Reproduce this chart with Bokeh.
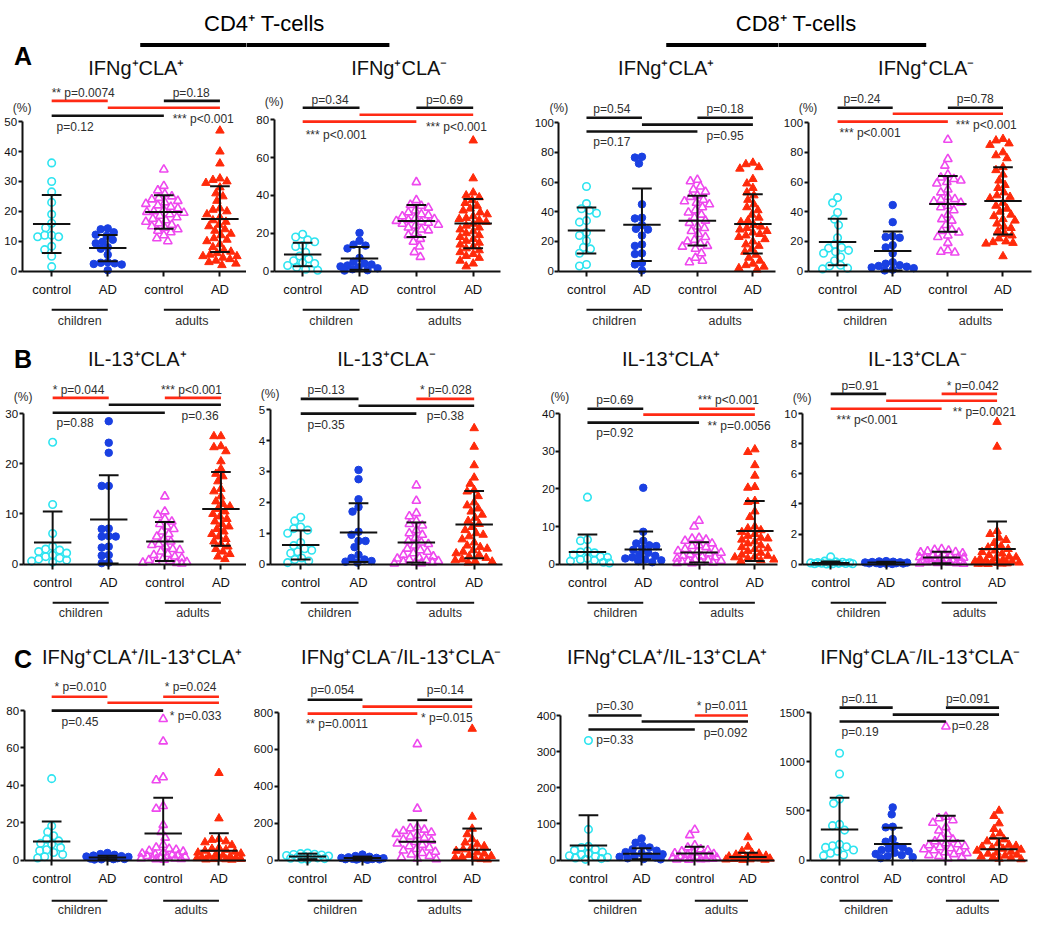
import math
from bokeh.plotting import figure
from bokeh.layouts import column, row
from bokeh.models import Range1d, LinearAxis, FixedTicker
from bokeh.core.properties import value
from bokeh.embed import file_html
from bokeh.resources import INLINE

# ---------------- data ----------------
GROUP_LABELS = ["control", "AD", "control", "AD"]
COHORTS = ["children", "adults"]

# A1  CD4 IFNg+CLA+
a1_cc = [36.2, 30.0, 26.5, 23.0, 19.0, 16.0, 14.5, 12.0, 12.0, 11.5, 11.5, 8.3, 7.2, 5.0, 1.5]
a1_cad = [14.3, 14.0, 13.0, 12.2, 11.8, 10.5, 9.8, 9.3, 8.0, 7.5, 5.5, 3.0, 2.8, 2.6, 2.4, 2.2, 0.3]
a1_ac = [34.0, 28.5, 27.0, 25.8, 25.0, 24.5, 24.0, 23.5, 23.0, 22.5, 22.0, 21.5, 21.0, 20.5, 20.0, 19.8,
         19.5, 19.0, 18.5, 18.0, 17.5, 17.0, 16.5, 16.0, 15.5, 15.0, 14.5, 14.0, 13.5, 13.0, 12.0, 11.0, 10.0]
a1_aad = [47, 40, 36, 31, 30.5, 30, 29.5, 28, 26, 25, 23.5, 21, 20.5, 20, 19, 18, 17, 16.5, 15.5, 15, 14,
          13.5, 12.5, 12, 11, 10.5, 10, 9, 8, 7, 6.5, 6, 5.5, 5, 5, 4.5, 4, 3.5, 3, 2.5, 2]
a1_mean = [15.8, 7.7, 19.8, 17.4]
a1_sd = [9.7, 4.4, 5.6, 11.0]

# A2  CD4 IFNg+CLA-
a2_cc = [19.5, 18, 16.5, 15.5, 13.5, 13, 10, 8, 6.5, 5.5, 4.5, 4, 3, 2, 1, 0.5]
a2_cad = [20.2, 16, 14, 13.5, 12, 7, 5, 4, 3.5, 3, 2.5, 2, 1.5, 1, 0.5, 0.3]
a2_ac = [47, 37.5, 35, 34.5, 33.5, 32, 31, 30, 29.5, 29, 28, 27.5, 27, 26.5, 26, 25.5, 25, 24.5, 24, 23,
         22, 21.5, 20, 19, 17, 15.5, 13, 10, 7.5]
a2_aad = [69, 49, 41.5, 40, 39, 37.5, 36, 34.5, 33, 32, 31, 30, 29, 28, 27.5, 27, 26, 25, 24, 23, 22, 21,
          20, 19, 18, 17, 16, 15, 14, 13, 12, 11, 10, 9, 8, 7, 5.5, 4, 2.5]
a2_mean = [8.8, 6.7, 26.5, 25.1]
a2_sd = [6.2, 6.0, 8.5, 13.0]

# A3  CD8 IFNg+CLA+
a3_cc = [57, 45.5, 42, 41, 39, 34, 33, 26, 24, 20.5, 16, 15, 12, 4.5, 3.5]
a3_cad = [77, 76.5, 72.5, 45, 36, 35.5, 31, 28.5, 28, 24, 18, 17, 12, 11.5, 5.5, 4.5, 0.5]
a3_ac = [61.5, 60.5, 57, 55, 53.5, 51, 50, 48, 47, 46, 45, 43, 41, 39.5, 38, 36, 34, 32.5, 30, 29, 27,
         25, 23, 21, 20, 18.5, 17, 16.5, 15, 12, 9, 7, 6]
a3_aad = [73, 72, 70, 69, 62, 59, 56, 53, 51, 48, 45, 43, 41, 38, 36, 34, 33, 31, 30, 29, 28, 27, 26, 25,
          24, 23, 21.5, 20, 18, 17, 15, 13, 11, 9, 7, 5, 4, 3, 2, 1]
a3_mean = [27.3, 31.3, 34.0, 31.8]
a3_sd = [15.5, 24.4, 16.7, 20.0]

# A4  CD8 IFNg+CLA-
a4_cc = [49.5, 46, 39.5, 35, 31, 22.5, 18, 16, 15.5, 14, 13, 12, 9.5, 7, 4, 3.5, 2, 1.5]
a4_cad = [44.5, 33, 23.5, 23, 22.5, 17.5, 16, 12, 6, 5, 4, 3.5, 3, 2.5, 2, 1, 0.5]
a4_ac = [88.5, 75.5, 71, 65, 63, 62, 61, 60, 59, 55, 53, 50, 48.5, 48, 47, 46, 44, 43, 41, 38, 35, 34,
         31, 28, 27, 26, 24, 23, 19, 14, 13, 12.5]
a4_aad = [89, 88, 86, 85, 80, 78, 76, 70, 68, 65, 61, 58, 56, 53, 51, 50, 49, 46, 44, 42, 40, 38, 37, 35,
          34, 32, 30, 29, 27, 25, 24, 22, 20, 19.5, 19, 18.5, 10]
a4_mean = [19.6, 13.6, 45.3, 47.3]
a4_sd = [15.6, 13.1, 18.7, 22.7]

# B1  CD4 IL-13+CLA+
b1_cc = [24.3, 11.9, 6.1, 3.5, 3.0, 2.8, 2.5, 2.2, 1.8, 1.5, 1.2, 1.0, 0.8, 0.6, 0.4]
b1_cad = [28.5, 24.2, 22.2, 15.6, 15.6, 7.1, 7.0, 5.6, 5.5, 5.5, 3.5, 3.3, 1.8, 1.7, 0.3, 0.2]
b1_ac = [13.5, 10.5, 9.8, 9.0, 8.5, 8.0, 7.5, 7.0, 6.5, 6.0, 5.5, 5.0, 4.5, 4.0, 3.8, 3.5, 3.0, 2.8,
         2.5, 2.0, 1.8, 1.5, 1.2, 1.0, 0.8, 0.6, 0.5, 0.4, 0.3, 0.2, 0.1]
b1_aad = [25.5, 25.5, 23.5, 23.3, 22.5, 20.5, 19, 18, 17.5, 16.5, 15, 14.5, 13.5, 12.5, 12, 11.5, 11,
          10.5, 10, 9.5, 9, 8.5, 8, 7.5, 7, 6.5, 6, 5.5, 5, 4.5, 4, 3.5, 3, 2.5, 2, 1.5, 1]
b1_mean = [4.3, 8.9, 4.5, 11.0]
b1_sd = [6.2, 8.8, 3.9, 7.35]

# B2  CD4 IL-13+CLA-
b2_cc = [1.52, 1.4, 1.2, 1.15, 1.1, 1.0, 0.7, 0.6, 0.5, 0.45, 0.4, 0.35, 0.2, 0.15, 0.1, 0.05]
b2_cad = [3.05, 2.75, 2.1, 1.85, 1.7, 1.05, 0.95, 0.75, 0.75, 0.55, 0.3, 0.2, 0.15, 0.1, 0.08, 0.05]
b2_ac = [2.55, 2.05, 1.65, 1.55, 1.4, 1.3, 1.25, 1.1, 1.0, 0.95, 0.85, 0.75, 0.7, 0.65, 0.6, 0.5, 0.45,
         0.4, 0.35, 0.3, 0.25, 0.2, 0.18, 0.15, 0.12, 0.1, 0.08, 0.06, 0.05, 0.03, 0.02]
b2_aad = [4.4, 3.8, 3.2, 2.8, 2.6, 2.4, 2.35, 2.2, 2.0, 1.9, 1.8, 1.7, 1.6, 1.5, 1.4, 1.3, 1.2, 1.1, 1.0,
          0.95, 0.9, 0.8, 0.7, 0.6, 0.55, 0.5, 0.45, 0.4, 0.35, 0.3, 0.25, 0.2, 0.15, 0.12, 0.1, 0.08, 0.05]
b2_mean = [0.62, 1.02, 0.70, 1.28]
b2_sd = [0.47, 0.95, 0.65, 1.09]

# B3  CD8 IL-13+CLA+
b3_cc = [17.8, 6.5, 6.2, 3.5, 3.2, 3.0, 2.5, 2.0, 1.8, 1.5, 1.2, 1.0, 0.8, 0.5, 0.3]
b3_cad = [20.3, 8.6, 6.2, 5.5, 5.0, 4.8, 4.2, 3.8, 3.0, 2.5, 2.2, 1.8, 1.5, 1.2, 1.0, 0.8, 0.5]
b3_ac = [11.5, 10.0, 7.0, 6.8, 6.5, 6.2, 5.5, 5.0, 4.8, 4.5, 4.0, 3.8, 3.5, 3.2, 3.0, 2.8, 2.5, 2.2,
         2.0, 1.8, 1.5, 1.2, 1.0, 0.9, 0.8, 0.6, 0.5, 0.4, 0.3, 0.2]
b3_aad = [30.5, 29.8, 26.3, 23.5, 20.5, 20.3, 16.8, 16.5, 14, 12.5, 10, 9.5, 9, 8.5, 8, 7.5, 7, 6.8, 6.5,
          6, 5.5, 5, 4.5, 4.2, 4, 3.5, 3, 2.5, 2.2, 2, 1.8, 1.5, 1.2, 1, 0.8]
b3_mean = [3.2, 3.9, 3.1, 8.8]
b3_sd = [4.7, 4.8, 2.7, 8.0]

# B4  CD8 IL-13+CLA-
b4_cc = [0.48, 0.2, 0.15, 0.12, 0.1, 0.09, 0.08, 0.07, 0.06, 0.05, 0.04, 0.03, 0.02, 0.02, 0.01]
b4_cad = [0.2, 0.18, 0.16, 0.14, 0.12, 0.11, 0.1, 0.09, 0.08, 0.07, 0.06, 0.05, 0.04, 0.03, 0.02, 0.01]
b4_ac = [1.0, 0.95, 0.9, 0.85, 0.8, 0.78, 0.72, 0.68, 0.62, 0.58, 0.55, 0.5, 0.48, 0.45, 0.42, 0.4, 0.36,
         0.33, 0.3, 0.27, 0.24, 0.2, 0.18, 0.15, 0.12, 0.1, 0.08, 0.06, 0.04, 0.02]
b4_aad = [9.45, 7.8, 2.2, 2.0, 1.75, 1.6, 1.4, 1.2, 1.1, 1.0, 0.9, 0.8, 0.7, 0.6, 0.5, 0.45, 0.4, 0.35,
          0.3, 0.25, 0.2, 0.18, 0.15, 0.1, 0.08, 0.05, 0.04, 0.03, 0.02, 0.01]
b4_mean = [0.07, 0.1, 0.44, 1.0]
b4_sd = [0.1, 0.05, 0.38, 1.84]

# C1  CD4 IFNg+CLA+/IL-13+CLA+
c1_cc = [43.6, 18.3, 15.1, 13, 11.2, 10.3, 9, 8.5, 6.7, 5.5, 5, 4.1, 3, 1.8, 1.1]
c1_cad = [3.8, 3.2, 2.8, 2.4, 2.1, 1.9, 1.7, 1.5, 1.3, 1.2, 1.0, 0.8, 0.6, 0.5, 0.4, 0.3]
c1_ac = [75.5, 63.5, 44.3, 42.7, 28.9, 27.5, 18.8, 15.1, 12, 8.2, 6.7, 6, 5.5, 5, 4.5, 4, 3.5, 3, 2.8,
         2.5, 2.2, 2, 1.8, 1.5, 1.2, 1, 0.8, 0.6, 0.4, 0.2]
c1_aad = [46.6, 22.3, 11.2, 10.8, 10, 9.5, 8, 6.5, 6, 5.5, 5, 4.5, 4, 3.5, 3, 2.5, 2, 1.8, 1.5, 1.2, 1,
          0.8, 0.6, 0.5, 0.4, 0.3, 0.2]
c1_mean = [9.9, 1.4, 14.2, 5.0]
c1_sd = [10.8, 0.9, 19.1, 9.4]

# C2  CD4 IFNg+CLA-/IL-13+CLA-
c2_cc = [38, 35, 32, 30, 28, 25, 22, 20, 18, 15, 12, 10, 8, 6, 5]
c2_cad = [30, 22, 18, 15, 12, 12, 10, 9, 8, 7, 6, 5, 4, 3, 2]
c2_ac = [629, 279, 178, 172, 165, 158, 150, 142, 135, 128, 120, 112, 105, 98, 90, 82, 75, 68, 60, 52, 45,
         38, 30, 22, 15, 8, 4]
c2_aad = [712, 235, 170, 140, 113, 95, 85, 75, 65, 58, 50, 42, 35, 28, 22, 16, 12, 8, 5, 3]
c2_mean = [20, 11, 99, 56]
c2_sd = [15, 8, 117, 115]

# C3  CD8 IFNg+CLA+/IL-13+CLA+
c3_cc = [331, 85, 38, 35, 30, 27, 22, 18, 15, 12, 10, 8, 6, 4, 2]
c3_cad = [60, 48, 39, 35, 30, 26, 22, 19, 16, 13, 11, 9, 7, 5, 3, 2]
c3_ac = [84, 69, 41, 35, 30, 27, 24, 21, 19, 17, 15, 13, 11, 10, 9, 8, 7, 6, 5, 4, 3, 2, 1.5, 1]
c3_aad = [63, 37, 25, 20, 18, 15, 12, 10, 8, 7, 6, 5, 4, 3, 2, 1.5, 1, 0.5]
c3_mean = [40.5, 17.5, 18.4, 8.3]
c3_sd = [83.5, 15, 18.4, 11.7]

# C4  CD8 IFNg+CLA-/IL-13+CLA-
c4_cc = [1086, 876, 621, 577, 363, 350, 305, 160, 146, 135, 129, 102, 90, 70, 51, 45]
c4_cad = [536, 465, 339, 333, 214, 187, 146, 130, 118, 102, 90, 75, 62, 51, 40, 30, 20]
c4_ac = [1358, 440, 425, 405, 380, 335, 300, 265, 230, 210, 190, 170, 160, 150, 140, 130, 120, 110, 100,
         90, 80, 70, 60, 50, 40, 30, 20]
c4_aad = [502, 448, 373, 316, 271, 237, 210, 190, 170, 155, 145, 135, 125, 115, 105, 95, 85, 75, 65, 55,
          45, 35, 28, 20, 14, 8]
c4_mean = [312, 163, 197, 109]
c4_sd = [323, 166, 254, 112]

# ---------------- styling / layout ----------------
FONT = "Liberation Sans"
CYAN = "#2ee4f0"
BLUE = "#1a40e2"
MAGENTA = "#ee48ee"
RED = "#ff2a0a"
SIGRED = "#ff2a14"
INK = "#111111"
GREY = "#2e2e2e"
K = "black"
R = "red"

SX = 1034 / 1050
SY = 918 / 926

HEAD_H = 40
COL_BOX = [(0, 250), (250, 278), (528, 262), (790, 260)]
ROW_BOX = [
    dict(y0=40, h=296, zero=273, gline=312, gtext=323, title=68, letter=56, name="A"),
    dict(y0=336, h=294, zero=569, gline=608, gtext=618, title=362, letter=362, name="B"),
    dict(y0=630, h=296, zero=868, gline=909, gtext=918, title=663, letter=665, name="C"),
]
# rules under the two cell-type captions (x from, x to, y) in reference pixels
HEAD_RULES = [(142, 395, 44.5), (676, 940, 44.5)]

STYLES = [
    dict(marker="circle", fill=None, line=CYAN, size=7.5),
    dict(marker="circle", fill=BLUE, line=BLUE, size=7.5),
    dict(marker="triangle", fill=None, line=MAGENTA, size=8.5),
    dict(marker="triangle", fill=RED, line=RED, size=8.5),
]

T1 = "IFNg\u207aCLA\u207a"
T2 = "IFNg\u207aCLA\u207b"
T3 = "IL-13\u207aCLA\u207a"
T4 = "IL-13\u207aCLA\u207b"
T5 = "IFNg\u207aCLA\u207a/IL-13\u207aCLA\u207a"
T6 = "IFNg\u207aCLA\u207b/IL-13\u207aCLA\u207b"

PANELS = [
    dict(row=0, col=0, title=T1, tx=138, ticks=[0, 10, 20, 30, 40, 50], top=122, ax=22, g1=52, g4=223, xe=250,
         data=[a1_cc, a1_cad, a1_ac, a1_aad], mean=a1_mean, sd=a1_sd, pct=-14,
         bars=[(1, 2, -21, R), (3, 4, -21, K), (2, 4, -14, R), (1, 3, -6, K)],
         labels=[("** p=0.0074", 52, -29), ("p=0.18", 175, -29), ("p=0.12", 57, 5), ("*** p<0.001", 175, -3)]),
    dict(row=0, col=1, title=T2, tx=405, ticks=[0, 20, 40, 60, 80], top=120, ax=278, g1=307, g4=480, xe=508,
         data=[a2_cc, a2_cad, a2_ac, a2_aad], mean=a2_mean, sd=a2_sd, pct=-18,
         bars=[(1, 2, -12, K), (3, 4, -12, K), (2, 4, -5, R), (1, 3, 2, R)],
         labels=[("p=0.34", 316, -20), ("p=0.69", 432, -20), ("*** p<0.001", 310, 15), ("*** p<0.001", 432, 7)]),
    dict(row=0, col=2, title=T1, tx=676, ticks=[0, 20, 40, 60, 80, 100], top=123, ax=567, g1=595, g4=764, xe=787,
         data=[a3_cc, a3_cad, a3_ac, a3_aad], mean=a3_mean, sd=a3_sd, pct=-15,
         bars=[(1, 2, -5, K), (3, 4, -5, K), (2, 4, 2, K), (1, 3, 9, K)],
         labels=[("p=0.54", 602, -14), ("p=0.18", 717, -14), ("p=0.17", 602, 20), ("p=0.95", 717, 13)]),
    dict(row=0, col=3, title=T2, tx=940, ticks=[0, 20, 40, 60, 80, 100], top=123, ax=820, g1=850, g4=1018, xe=1047,
         data=[a4_cc, a4_cad, a4_ac, a4_aad], mean=a4_mean, sd=a4_sd, pct=-15,
         bars=[(1, 2, -15, K), (3, 4, -15, K), (2, 4, -9, R), (1, 3, -1, R)],
         labels=[("p=0.24", 856, -24), ("p=0.78", 971, -24), ("*** p<0.001", 852, 10), ("*** p<0.001", 970, 2)]),
    dict(row=1, col=0, title=T3, tx=139, ticks=[0, 10, 20, 30], top=417, ax=23, g1=53, g4=224, xe=250,
         data=[b1_cc, b1_cad, b1_ac, b1_aad], mean=b1_mean, sd=b1_sd, pct=-17,
         bars=[(1, 2, -16, R), (3, 4, -16, R), (2, 4, -9, K), (1, 3, -1, K)],
         labels=[("* p=0.044", 53, -24), ("*** p<0.001", 163, -24), ("p=0.88", 57, 9), ("p=0.36", 184, 2)]),
    dict(row=1, col=1, title=T4, tx=392, ticks=[0, 1, 2, 3, 4, 5], top=413, ax=274, g1=305, g4=481, xe=510,
         data=[b2_cc, b2_cad, b2_ac, b2_aad], mean=b2_mean, sd=b2_sd, pct=-16,
         bars=[(1, 2, -11, K), (3, 4, -11, R), (2, 4, -4, K), (1, 3, 4, K)],
         labels=[("p=0.13", 312, -20), ("* p=0.028", 426, -20), ("p=0.35", 312, 15), ("p=0.38", 433, 6)]),
    dict(row=1, col=2, title=T3, tx=681, ticks=[0, 10, 20, 30, 40], top=417, ax=568, g1=596, g4=766, xe=789,
         data=[b3_cc, b3_cad, b3_ac, b3_aad], mean=b3_mean, sd=b3_sd, pct=-17,
         bars=[(1, 2, -5, K), (3, 4, -5, R), (2, 4, 1, R), (1, 3, 9, K)],
         labels=[("p=0.69", 605, -14), ("*** p<0.001", 708, -14), ("p=0.92", 605, 20), ("** p=0.0056", 718, 12)]),
    dict(row=1, col=3, title=T4, tx=931, ticks=[0, 2, 4, 6, 8, 10], top=417, ax=814, g1=843, g4=1012, xe=1030,
         data=[b4_cc, b4_cad, b4_ac, b4_aad], mean=b4_mean, sd=b4_sd, pct=-16,
         bars=[(1, 2, -20, K), (3, 4, -20, R), (2, 4, -13, R), (1, 3, -5, R)],
         labels=[("p=0.91", 854, -28), ("* p=0.042", 961, -28), ("*** p<0.001", 849, 6), ("** p=0.0021", 967, -2)]),
    dict(row=2, col=0, title=T5, tx=144, ticks=[0, 20, 40, 60, 80], top=717, ax=24, g1=52, g4=222, xe=250,
         data=[c1_cc, c1_cad, c1_ac, c1_aad], mean=c1_mean, sd=c1_sd, pct=None,
         bars=[(1, 2, -14, R), (3, 4, -14, R), (2, 4, -8, R), (1, 3, 0, K)],
         labels=[("* p=0.010", 55, -24), ("* p=0.024", 167, -24), ("p=0.45", 62, 11), ("* p=0.033", 172, 5)]),
    dict(row=2, col=1, title=T6, tx=407, ticks=[0, 200, 400, 600, 800], top=719, ax=282, g1=312, g4=479, xe=507,
         data=[c2_cc, c2_cad, c2_ac, c2_aad], mean=c2_mean, sd=c2_sd, pct=None,
         bars=[(1, 2, -13, K), (3, 4, -13, K), (2, 4, -6, R), (1, 3, 1, R)],
         labels=[("p=0.054", 315, -23), ("p=0.14", 433, -23), ("** p=0.0011", 310, 12), ("* p=0.015", 427, 5)]),
    dict(row=2, col=2, title=T5, tx=677, ticks=[0, 100, 200, 300, 400], top=722, ax=569, g1=597, g4=759, xe=786,
         data=[c3_cc, c3_cad, c3_ac, c3_aad], mean=c3_mean, sd=c3_sd, pct=None,
         bars=[(1, 2, 0, K), (3, 4, 0, R), (2, 4, 6, K), (1, 3, 14, K)],
         labels=[("p=0.30", 605, -10), ("* p=0.011", 707, -10), ("p=0.33", 605, 25), ("p=0.092", 714, 18)]),
    dict(row=2, col=3, title=T6, tx=934, ticks=[0, 500, 1000, 1500], top=719, ax=822, g1=852, g4=1014, xe=1043,
         data=[c4_cc, c4_cad, c4_ac, c4_aad], mean=c4_mean, sd=c4_sd, pct=None,
         bars=[(1, 2, -5, K), (3, 4, -5, K), (2, 4, 2, K), (1, 3, 9, K)],
         labels=[("p=0.11", 854, -14), ("p=0.091", 960, -14), ("p=0.19", 854, 20), ("p=0.28", 966, 14)]),
]


def swarm(vals, ypx, xpx, diam=7.0, cap=22):
    """Beeswarm horizontal offsets (in group units) so markers do not overlap."""
    order = sorted(range(len(vals)), key=lambda i: -vals[i])
    cands = sorted(range(-cap, cap + 1), key=lambda c: (abs(c), c))
    placed = []
    offs = [0.0] * len(vals)
    for i in order:
        y = vals[i] * ypx
        chosen = None
        best_c, best_d = 0, -1.0
        for c in cands:
            dmin = min((math.hypot(c - px, y - py) for px, py in placed), default=1e9)
            if dmin >= diam:
                chosen = c
                break
            if dmin > best_d:
                best_d, best_c = dmin, c
        if chosen is None:
            chosen = best_c
        placed.append((chosen, y))
        offs[i] = chosen / xpx
    return offs


def txt(p, x, y, t, size, color=INK, align="center", style="normal"):
    p.text(x=[x], y=[y], text=[t], text_font=value(FONT), text_font_size=size,
           text_color=color, text_align=align, text_baseline="middle", text_font_style=style)


def build(pn):
    rb = ROW_BOX[pn["row"]]
    cl, cw = COL_BOX[pn["col"]]
    ticks = pn["ticks"]
    ymax = ticks[-1]
    top = pn["top"]
    s = (rb["zero"] - top) / ymax
    g1, g4 = pn["g1"], pn["g4"]
    d = (g4 - g1) / 3.0

    def X(px):
        return 1 + (px - g1) / d

    def Y(py):
        return ymax - (py - top) / s

    p = figure(width=round(cw * SX), height=round(rb["h"] * SY),
               x_range=Range1d(X(cl), X(cl + cw)),
               y_range=Range1d(Y(rb["y0"] + rb["h"]), Y(rb["y0"])),
               output_backend="svg", toolbar_location=None,
               x_axis_type=None, y_axis_type=None, min_border=0)
    p.outline_line_color = None
    p.background_fill_color = "white"
    p.border_fill_color = "white"

    yax = LinearAxis(fixed_location=X(pn["ax"]), bounds=(0, ymax), ticker=FixedTicker(ticks=ticks))
    xax = LinearAxis(fixed_location=0, bounds=(X(pn["ax"]), X(pn["xe"])),
                     ticker=FixedTicker(ticks=[1, 2, 3, 4]),
                     major_label_overrides={i + 1: lab for i, lab in enumerate(GROUP_LABELS)})
    for ax in (yax, xax):
        ax.axis_line_width = 2
        ax.axis_line_color = INK
        ax.major_tick_line_width = 2
        ax.major_tick_line_color = INK
        ax.major_tick_in = 0
        ax.minor_tick_line_color = None
        ax.major_label_text_font = FONT
        ax.major_label_text_color = INK
    yax.major_label_text_font_size = "11.5px"
    yax.major_tick_out = 4
    yax.major_label_standoff = 1
    xax.major_label_text_font_size = "13px"
    xax.major_tick_out = 5
    xax.major_label_standoff = 6
    p.add_layout(yax, "left")
    p.add_layout(xax, "below")

    # points
    ypx = s * SY
    xpx = d * SX
    for gi, vals in enumerate(pn["data"]):
        st = STYLES[gi]
        offs = swarm(vals, ypx, xpx)
        xs = [gi + 1 + o for o in offs]
        if st["fill"] is None:
            p.scatter(xs, vals, marker=st["marker"], size=st["size"], fill_color=None,
                      line_color=st["line"], line_width=1.6)
        else:
            p.scatter(xs, vals, marker=st["marker"], size=st["size"], fill_color=st["fill"],
                      line_color=st["line"], line_width=1)

    # mean +/- SD
    hm, hc = 19.0 / d, 10.0 / d
    x0, y0, x1, y1 = [], [], [], []
    for gi in range(4):
        xc = gi + 1
        m, sd = pn["mean"][gi], pn["sd"][gi]
        hi, lo = m + sd, max(0.0, m - sd)
        x0 += [xc - hm, xc, xc - hc]
        x1 += [xc + hm, xc, xc + hc]
        y0 += [m, lo, hi]
        y1 += [m, hi, hi]
        if m - sd > 0:
            x0.append(xc - hc); x1.append(xc + hc); y0.append(lo); y1.append(lo)
    p.segment(x0, y0, x1, y1, line_color=INK, line_width=2)

    # significance bars and p values
    for a, b, rel, col in pn["bars"]:
        yy = Y(top + rel)
        p.segment([a], [yy], [b], [yy], line_color=SIGRED if col == R else INK, line_width=2.6)
    for t, px, rel in pn["labels"]:
        txt(p, X(px), Y(top + rel), t, "12px", GREY, align="left")

    # title, unit, row letter
    txt(p, X(pn["tx"]), Y(rb["title"]), pn["title"], "20px", INK)
    if pn["pct"] is not None:
        txt(p, X(pn["ax"]), Y(top + pn["pct"]), "(%)", "12px", GREY)
    if pn["col"] == 0:
        txt(p, X(23), Y(rb["letter"]), rb["name"], "25px", "black", style="bold")

    # rules under the cell-type captions (clipped to each panel of the first row)
    if pn["row"] == 0:
        for xa, xb, yr in HEAD_RULES:
            p.segment([X(xa)], [Y(yr)], [X(xb)], [Y(yr)], line_color="black", line_width=4)

    # cohort brackets
    yl = Y(rb["gline"])
    p.segment([1, 3], [yl, yl], [2, 4], [yl, yl], line_color=INK, line_width=2)
    for k, lab in enumerate(COHORTS):
        txt(p, 1.5 + 2 * k, Y(rb["gtext"]), lab, "12.5px", GREY)
    return p


# header with the two cell-type captions
head = figure(width=1034, height=round(HEAD_H * SY), x_range=Range1d(0, 1050), y_range=Range1d(HEAD_H, 0),
              output_backend="svg", toolbar_location=None, x_axis_type=None, y_axis_type=None, min_border=0)
head.outline_line_color = None
txt(head, 268, 23, "CD4\u207a T-cells", "22px", "black")
txt(head, 808, 23, "CD8\u207a T-cells", "22px", "black")

figs = [build(pn) for pn in PANELS]
layout = column(head,
                row(*figs[0:4], spacing=0),
                row(*figs[4:8], spacing=0),
                row(*figs[8:12], spacing=0),
                spacing=0)

open("out.html", "w").write(file_html(layout, INLINE))
